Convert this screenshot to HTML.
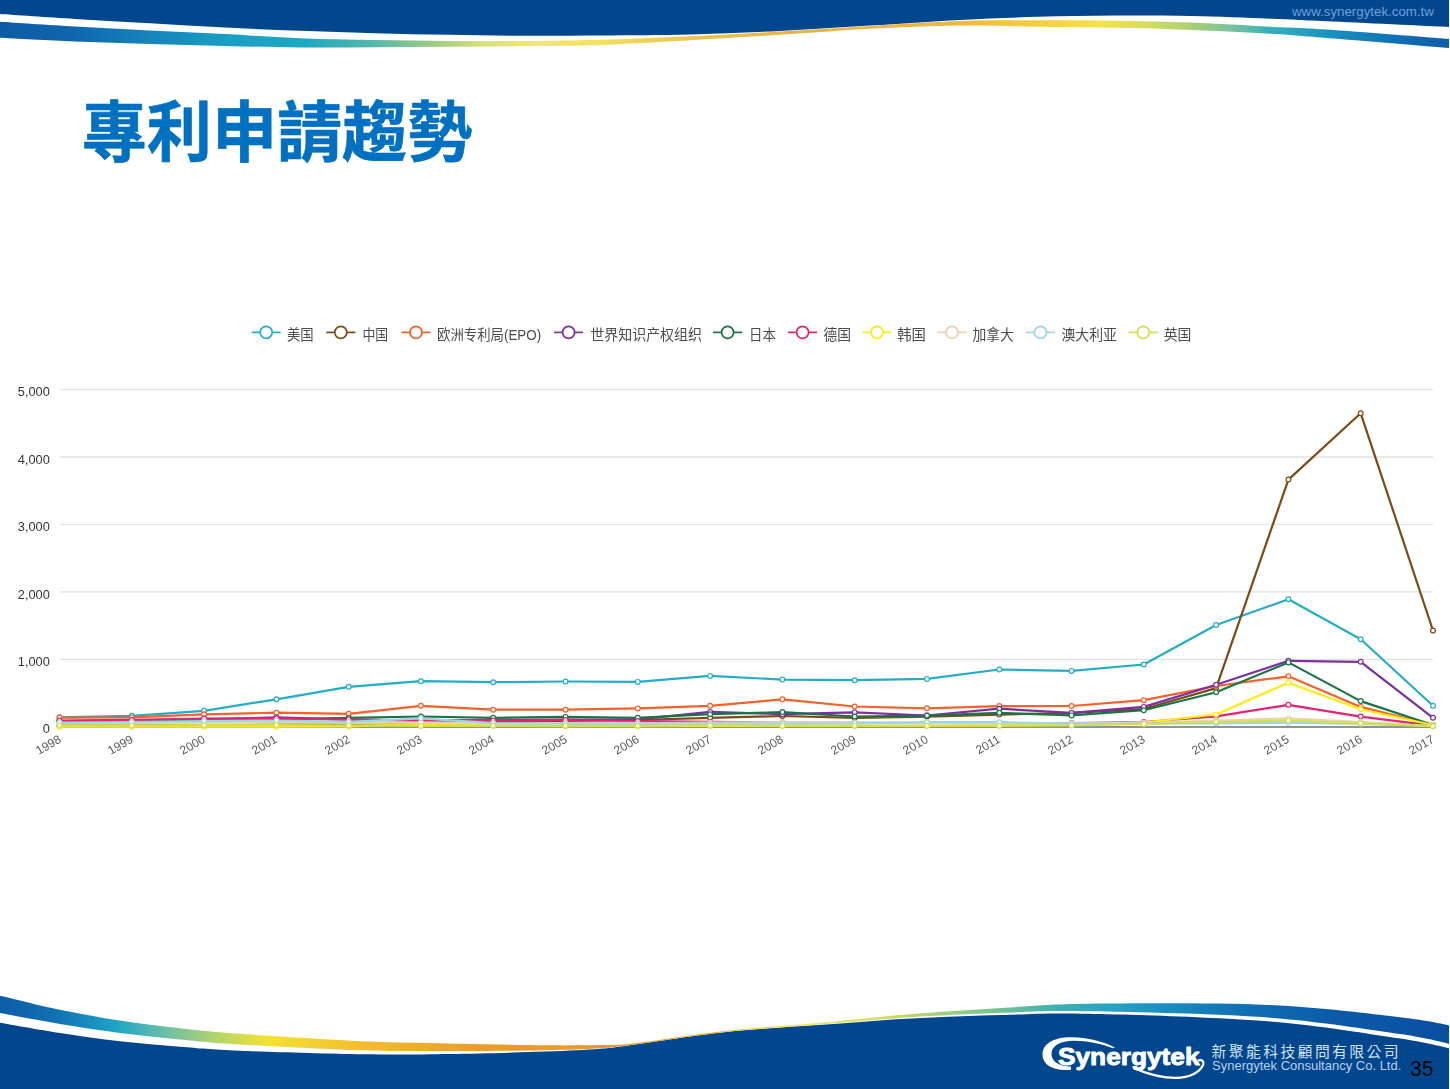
<!DOCTYPE html>
<html lang="zh-Hant">
<head>
<meta charset="utf-8">
<title>專利申請趨勢</title>
<style>
html,body{margin:0;padding:0;background:#fff;}
body{width:1450px;height:1089px;overflow:hidden;font-family:"Liberation Sans",sans-serif;}
#slide{position:relative;width:1450px;height:1089px;overflow:hidden;background:#fff;}
.abs{position:absolute;left:0;top:0;display:block;}
.url{left:1292px;top:3.6px;font-size:13.3px;line-height:15px;color:#6f9fdb;white-space:nowrap;}

.yl{position:absolute;left:0;width:49.8px;text-align:right;font-size:12.8px;line-height:14px;color:#363636;}
.xl{position:absolute;top:733px;width:40px;text-align:right;font-size:12px;line-height:13px;color:#5a5a5a;transform-origin:100% 0;transform:rotate(-30deg);white-space:nowrap;}

.co{left:1212px;top:1058.4px;font-size:13px;line-height:15px;color:#b9d1ee;white-space:nowrap;}
.pg{left:1409.7px;top:1056.5px;font-size:22.2px;line-height:24px;color:#000;white-space:nowrap;transform-origin:0 0;transform:scaleX(0.945);}
.lg{font-family:"Liberation Sans","Noto Sans CJK SC",sans-serif;font-size:13.6px;fill:#4c4c4c;}
/*CSS*/
</style>
</head>
<body>
<div id="slide">

<svg class="abs" width="1450" height="60" viewBox="0 0 1450 60">
 <defs>
  <linearGradient id="hg" x1="0" y1="0" x2="1450" y2="0" gradientUnits="userSpaceOnUse">
   <stop offset="0" stop-color="#0c5aa6"/>
   <stop offset="0.05" stop-color="#0f66ad"/>
   <stop offset="0.1" stop-color="#1583ba"/>
   <stop offset="0.16" stop-color="#1a9fc5"/>
   <stop offset="0.21" stop-color="#1aa9c2"/>
   <stop offset="0.26" stop-color="#5ab9a8"/>
   <stop offset="0.29" stop-color="#8dc68a"/>
   <stop offset="0.33" stop-color="#d6de7b"/>
   <stop offset="0.37" stop-color="#f2e773"/>
   <stop offset="0.415" stop-color="#f3e060"/>
   <stop offset="0.475" stop-color="#ecc450"/>
   <stop offset="0.54" stop-color="#e3b64a"/>
   <stop offset="0.6" stop-color="#e6b648"/>
   <stop offset="0.66" stop-color="#edb83e"/>
   <stop offset="0.715" stop-color="#f4cd3e"/>
   <stop offset="0.76" stop-color="#f3e34b"/>
   <stop offset="0.793" stop-color="#d3dc5f"/>
   <stop offset="0.822" stop-color="#a8cf78"/>
   <stop offset="0.848" stop-color="#7cc39b"/>
   <stop offset="0.876" stop-color="#35b0ba"/>
   <stop offset="0.915" stop-color="#1a93c0"/>
   <stop offset="0.96" stop-color="#1272b4"/>
   <stop offset="1" stop-color="#0d5ca8"/>
  </linearGradient>
 </defs>
 <path d="M0 0H1450V27C1429.5 26.1 1357.0 22.7 1327.0 21.3C1297.0 19.9 1292.5 19.6 1270.0 18.7C1247.5 17.8 1217.8 16.5 1192.0 16.0C1166.2 15.5 1140.8 15.4 1115.0 15.5C1089.2 15.6 1062.8 16.1 1037.0 16.8C1011.2 17.6 987.8 18.5 960.0 20.0C932.2 21.5 900.0 23.8 870.0 25.6C840.0 27.4 810.0 29.5 780.0 31.0C750.0 32.5 720.0 33.8 690.0 34.6C660.0 35.4 627.5 35.4 600.0 35.6C572.5 35.8 550.0 35.9 525.0 35.8C500.0 35.7 475.0 35.2 450.0 34.8C425.0 34.4 400.0 33.9 375.0 33.2C350.0 32.5 325.0 31.6 300.0 30.7C275.0 29.8 250.0 28.8 225.0 27.5C200.0 26.2 175.0 24.6 150.0 23.2C125.0 21.8 100.0 20.5 75.0 19.0C50.0 17.5 12.5 14.9 0.0 14.1Z" fill="#02468d"/>
 <path d="M0.0 21.7C12.5 22.5 50.0 25.0 75.0 26.5C100.0 28.0 125.0 29.3 150.0 30.6C175.0 31.9 200.0 32.8 225.0 34.1C250.0 35.4 275.0 37.2 300.0 38.2C325.0 39.2 350.0 39.5 375.0 40.0C400.0 40.5 425.0 40.8 450.0 41.0C475.0 41.2 500.0 41.2 525.0 41.0C550.0 40.8 572.5 40.6 600.0 39.8C627.5 39.0 660.0 37.7 690.0 36.3C720.0 34.9 750.0 33.2 780.0 31.5C810.0 29.8 840.0 27.8 870.0 26.0C900.0 24.2 932.2 21.9 960.0 21.0C987.8 20.1 1011.2 20.4 1037.0 20.3C1062.8 20.2 1089.2 20.3 1115.0 20.7C1140.8 21.1 1166.2 21.5 1192.0 22.5C1217.8 23.5 1247.5 25.5 1270.0 26.7C1292.5 27.9 1297.0 27.4 1327.0 29.5C1357.0 31.6 1429.5 37.4 1450.0 39.0L1450.0 48.0C1429.5 46.3 1357.0 40.3 1327.0 37.9C1297.0 35.5 1292.5 35.0 1270.0 33.7C1247.5 32.4 1217.8 30.9 1192.0 29.9C1166.2 28.9 1140.8 28.3 1115.0 27.8C1089.2 27.3 1062.8 27.1 1037.0 26.7C1011.2 26.3 987.8 25.1 960.0 25.5C932.2 25.9 900.0 27.2 870.0 28.8C840.0 30.4 810.0 32.9 780.0 34.8C750.0 36.7 720.0 38.5 690.0 40.2C660.0 41.9 627.5 44.0 600.0 45.0C572.5 46.0 550.0 45.9 525.0 46.2C500.0 46.5 475.0 46.6 450.0 46.8C425.0 47.0 400.0 47.1 375.0 47.2C350.0 47.3 325.0 47.6 300.0 47.4C275.0 47.2 250.0 46.5 225.0 45.9C200.0 45.3 175.0 44.6 150.0 43.9C125.0 43.1 100.0 42.4 75.0 41.4C50.0 40.4 12.5 38.3 0.0 37.7Z" fill="url(#hg)"/>
</svg>
<div class="abs url">www.synergytek.com.tw</div>

<svg class="abs" role="img" aria-label="專利申請趨勢" width="1450" height="200" viewBox="0 0 1450 200"><text transform="translate(81.7 155.6) scale(1.017 1.036)" x="0" y="0" font-family="'Liberation Sans','Noto Sans CJK TC',sans-serif" font-weight="bold" font-size="64" fill="#0070c0" stroke="#0070c0" stroke-width="0.6" stroke-linejoin="round" textLength="384" lengthAdjust="spacingAndGlyphs">專利申請趨勢</text></svg>
<div class="abs" id="chart" style="width:1450px;height:800px;filter:blur(0.6px)">
<svg class="abs" width="1450" height="800" viewBox="0 0 1450 800">
<g stroke="#e2e2e2" stroke-width="1.3">
<line x1="59.5" y1="659.3" x2="1433.0" y2="659.3"/>
<line x1="59.5" y1="591.8" x2="1433.0" y2="591.8"/>
<line x1="59.5" y1="524.4" x2="1433.0" y2="524.4"/>
<line x1="59.5" y1="457.0" x2="1433.0" y2="457.0"/>
<line x1="59.5" y1="389.6" x2="1433.0" y2="389.6"/>
</g>
<line x1="59.5" y1="727.0" x2="1433.0" y2="727.0" stroke="#6e6e6e" stroke-width="1.4"/>
<g stroke="#25acc7" fill="#fff">
<polyline points="59.5,717.3 131.8,715.8 204.1,710.8 276.4,699.3 348.7,686.8 420.9,681.2 493.2,682.2 565.5,681.5 637.8,681.9 710.1,675.9 782.4,679.6 854.7,680.2 927.0,678.9 999.3,669.5 1071.6,670.9 1143.8,664.5 1216.1,625.0 1288.4,599.3 1360.7,639.3 1433.0,705.7" fill="none" stroke-width="2.2" stroke-linejoin="round" stroke-linecap="round"/>
<circle cx="59.5" cy="717.3" r="2.4" stroke-width="1.2"/>
<circle cx="131.8" cy="715.8" r="2.4" stroke-width="1.2"/>
<circle cx="204.1" cy="710.8" r="2.4" stroke-width="1.2"/>
<circle cx="276.4" cy="699.3" r="2.4" stroke-width="1.2"/>
<circle cx="348.7" cy="686.8" r="2.4" stroke-width="1.2"/>
<circle cx="420.9" cy="681.2" r="2.4" stroke-width="1.2"/>
<circle cx="493.2" cy="682.2" r="2.4" stroke-width="1.2"/>
<circle cx="565.5" cy="681.5" r="2.4" stroke-width="1.2"/>
<circle cx="637.8" cy="681.9" r="2.4" stroke-width="1.2"/>
<circle cx="710.1" cy="675.9" r="2.4" stroke-width="1.2"/>
<circle cx="782.4" cy="679.6" r="2.4" stroke-width="1.2"/>
<circle cx="854.7" cy="680.2" r="2.4" stroke-width="1.2"/>
<circle cx="927.0" cy="678.9" r="2.4" stroke-width="1.2"/>
<circle cx="999.3" cy="669.5" r="2.4" stroke-width="1.2"/>
<circle cx="1071.6" cy="670.9" r="2.4" stroke-width="1.2"/>
<circle cx="1143.8" cy="664.5" r="2.4" stroke-width="1.2"/>
<circle cx="1216.1" cy="625.0" r="2.4" stroke-width="1.2"/>
<circle cx="1288.4" cy="599.3" r="2.4" stroke-width="1.2"/>
<circle cx="1360.7" cy="639.3" r="2.4" stroke-width="1.2"/>
<circle cx="1433.0" cy="705.7" r="2.4" stroke-width="1.2"/>
</g>
<g stroke="#7d4a17" fill="#fff">
<polyline points="59.5,725.7 131.8,725.5 204.1,725.2 276.4,724.7 348.7,724.0 420.9,723.0 493.2,722.0 565.5,721.0 637.8,720.0 710.1,717.8 782.4,716.0 854.7,717.8 927.0,716.6 999.3,714.6 1071.6,712.9 1143.8,709.0 1216.1,688.1 1288.4,479.6 1360.7,413.3 1433.0,630.5" fill="none" stroke-width="2.2" stroke-linejoin="round" stroke-linecap="round"/>
<circle cx="59.5" cy="725.7" r="2.4" stroke-width="1.2"/>
<circle cx="131.8" cy="725.5" r="2.4" stroke-width="1.2"/>
<circle cx="204.1" cy="725.2" r="2.4" stroke-width="1.2"/>
<circle cx="276.4" cy="724.7" r="2.4" stroke-width="1.2"/>
<circle cx="348.7" cy="724.0" r="2.4" stroke-width="1.2"/>
<circle cx="420.9" cy="723.0" r="2.4" stroke-width="1.2"/>
<circle cx="493.2" cy="722.0" r="2.4" stroke-width="1.2"/>
<circle cx="565.5" cy="721.0" r="2.4" stroke-width="1.2"/>
<circle cx="637.8" cy="720.0" r="2.4" stroke-width="1.2"/>
<circle cx="710.1" cy="717.8" r="2.4" stroke-width="1.2"/>
<circle cx="782.4" cy="716.0" r="2.4" stroke-width="1.2"/>
<circle cx="854.7" cy="717.8" r="2.4" stroke-width="1.2"/>
<circle cx="927.0" cy="716.6" r="2.4" stroke-width="1.2"/>
<circle cx="999.3" cy="714.6" r="2.4" stroke-width="1.2"/>
<circle cx="1071.6" cy="712.9" r="2.4" stroke-width="1.2"/>
<circle cx="1143.8" cy="709.0" r="2.4" stroke-width="1.2"/>
<circle cx="1216.1" cy="688.1" r="2.4" stroke-width="1.2"/>
<circle cx="1288.4" cy="479.6" r="2.4" stroke-width="1.2"/>
<circle cx="1360.7" cy="413.3" r="2.4" stroke-width="1.2"/>
<circle cx="1433.0" cy="630.5" r="2.4" stroke-width="1.2"/>
</g>
<g stroke="#f2622a" fill="#fff">
<polyline points="59.5,717.6 131.8,717.4 204.1,714.3 276.4,712.7 348.7,713.8 420.9,705.8 493.2,709.7 565.5,709.7 637.8,708.4 710.1,705.8 782.4,699.3 854.7,706.5 927.0,708.3 999.3,706.1 1071.6,706.0 1143.8,700.2 1216.1,686.0 1288.4,676.3 1360.7,706.9 1433.0,725.0" fill="none" stroke-width="2.2" stroke-linejoin="round" stroke-linecap="round"/>
<circle cx="59.5" cy="717.6" r="2.4" stroke-width="1.2"/>
<circle cx="131.8" cy="717.4" r="2.4" stroke-width="1.2"/>
<circle cx="204.1" cy="714.3" r="2.4" stroke-width="1.2"/>
<circle cx="276.4" cy="712.7" r="2.4" stroke-width="1.2"/>
<circle cx="348.7" cy="713.8" r="2.4" stroke-width="1.2"/>
<circle cx="420.9" cy="705.8" r="2.4" stroke-width="1.2"/>
<circle cx="493.2" cy="709.7" r="2.4" stroke-width="1.2"/>
<circle cx="565.5" cy="709.7" r="2.4" stroke-width="1.2"/>
<circle cx="637.8" cy="708.4" r="2.4" stroke-width="1.2"/>
<circle cx="710.1" cy="705.8" r="2.4" stroke-width="1.2"/>
<circle cx="782.4" cy="699.3" r="2.4" stroke-width="1.2"/>
<circle cx="854.7" cy="706.5" r="2.4" stroke-width="1.2"/>
<circle cx="927.0" cy="708.3" r="2.4" stroke-width="1.2"/>
<circle cx="999.3" cy="706.1" r="2.4" stroke-width="1.2"/>
<circle cx="1071.6" cy="706.0" r="2.4" stroke-width="1.2"/>
<circle cx="1143.8" cy="700.2" r="2.4" stroke-width="1.2"/>
<circle cx="1216.1" cy="686.0" r="2.4" stroke-width="1.2"/>
<circle cx="1288.4" cy="676.3" r="2.4" stroke-width="1.2"/>
<circle cx="1360.7" cy="706.9" r="2.4" stroke-width="1.2"/>
<circle cx="1433.0" cy="725.0" r="2.4" stroke-width="1.2"/>
</g>
<g stroke="#7d2fa0" fill="#fff">
<polyline points="59.5,721.0 131.8,720.3 204.1,719.3 276.4,717.4 348.7,719.6 420.9,720.3 493.2,720.0 565.5,719.6 637.8,719.3 710.1,711.9 782.4,714.2 854.7,712.4 927.0,715.5 999.3,708.7 1071.6,712.9 1143.8,706.9 1216.1,684.8 1288.4,660.8 1360.7,661.8 1433.0,717.8" fill="none" stroke-width="2.2" stroke-linejoin="round" stroke-linecap="round"/>
<circle cx="59.5" cy="721.0" r="2.4" stroke-width="1.2"/>
<circle cx="131.8" cy="720.3" r="2.4" stroke-width="1.2"/>
<circle cx="204.1" cy="719.3" r="2.4" stroke-width="1.2"/>
<circle cx="276.4" cy="717.4" r="2.4" stroke-width="1.2"/>
<circle cx="348.7" cy="719.6" r="2.4" stroke-width="1.2"/>
<circle cx="420.9" cy="720.3" r="2.4" stroke-width="1.2"/>
<circle cx="493.2" cy="720.0" r="2.4" stroke-width="1.2"/>
<circle cx="565.5" cy="719.6" r="2.4" stroke-width="1.2"/>
<circle cx="637.8" cy="719.3" r="2.4" stroke-width="1.2"/>
<circle cx="710.1" cy="711.9" r="2.4" stroke-width="1.2"/>
<circle cx="782.4" cy="714.2" r="2.4" stroke-width="1.2"/>
<circle cx="854.7" cy="712.4" r="2.4" stroke-width="1.2"/>
<circle cx="927.0" cy="715.5" r="2.4" stroke-width="1.2"/>
<circle cx="999.3" cy="708.7" r="2.4" stroke-width="1.2"/>
<circle cx="1071.6" cy="712.9" r="2.4" stroke-width="1.2"/>
<circle cx="1143.8" cy="706.9" r="2.4" stroke-width="1.2"/>
<circle cx="1216.1" cy="684.8" r="2.4" stroke-width="1.2"/>
<circle cx="1288.4" cy="660.8" r="2.4" stroke-width="1.2"/>
<circle cx="1360.7" cy="661.8" r="2.4" stroke-width="1.2"/>
<circle cx="1433.0" cy="717.8" r="2.4" stroke-width="1.2"/>
</g>
<g stroke="#1a7448" fill="#fff">
<polyline points="59.5,721.3 131.8,720.6 204.1,720.0 276.4,719.3 348.7,717.8 420.9,716.5 493.2,717.8 565.5,716.9 637.8,717.8 710.1,714.2 782.4,712.1 854.7,716.5 927.0,715.5 999.3,712.8 1071.6,715.4 1143.8,710.2 1216.1,692.3 1288.4,662.4 1360.7,701.1 1433.0,725.0" fill="none" stroke-width="2.2" stroke-linejoin="round" stroke-linecap="round"/>
<circle cx="59.5" cy="721.3" r="2.4" stroke-width="1.2"/>
<circle cx="131.8" cy="720.6" r="2.4" stroke-width="1.2"/>
<circle cx="204.1" cy="720.0" r="2.4" stroke-width="1.2"/>
<circle cx="276.4" cy="719.3" r="2.4" stroke-width="1.2"/>
<circle cx="348.7" cy="717.8" r="2.4" stroke-width="1.2"/>
<circle cx="420.9" cy="716.5" r="2.4" stroke-width="1.2"/>
<circle cx="493.2" cy="717.8" r="2.4" stroke-width="1.2"/>
<circle cx="565.5" cy="716.9" r="2.4" stroke-width="1.2"/>
<circle cx="637.8" cy="717.8" r="2.4" stroke-width="1.2"/>
<circle cx="710.1" cy="714.2" r="2.4" stroke-width="1.2"/>
<circle cx="782.4" cy="712.1" r="2.4" stroke-width="1.2"/>
<circle cx="854.7" cy="716.5" r="2.4" stroke-width="1.2"/>
<circle cx="927.0" cy="715.5" r="2.4" stroke-width="1.2"/>
<circle cx="999.3" cy="712.8" r="2.4" stroke-width="1.2"/>
<circle cx="1071.6" cy="715.4" r="2.4" stroke-width="1.2"/>
<circle cx="1143.8" cy="710.2" r="2.4" stroke-width="1.2"/>
<circle cx="1216.1" cy="692.3" r="2.4" stroke-width="1.2"/>
<circle cx="1288.4" cy="662.4" r="2.4" stroke-width="1.2"/>
<circle cx="1360.7" cy="701.1" r="2.4" stroke-width="1.2"/>
<circle cx="1433.0" cy="725.0" r="2.4" stroke-width="1.2"/>
</g>
<g stroke="#e5246f" fill="#fff">
<polyline points="59.5,720.5 131.8,719.9 204.1,718.6 276.4,718.3 348.7,719.6 420.9,720.5 493.2,720.6 565.5,720.1 637.8,721.0 710.1,721.9 782.4,722.5 854.7,722.8 927.0,723.0 999.3,723.0 1071.6,723.0 1143.8,722.0 1216.1,716.3 1288.4,704.8 1360.7,716.6 1433.0,725.7" fill="none" stroke-width="2.2" stroke-linejoin="round" stroke-linecap="round"/>
<circle cx="59.5" cy="720.5" r="2.4" stroke-width="1.2"/>
<circle cx="131.8" cy="719.9" r="2.4" stroke-width="1.2"/>
<circle cx="204.1" cy="718.6" r="2.4" stroke-width="1.2"/>
<circle cx="276.4" cy="718.3" r="2.4" stroke-width="1.2"/>
<circle cx="348.7" cy="719.6" r="2.4" stroke-width="1.2"/>
<circle cx="420.9" cy="720.5" r="2.4" stroke-width="1.2"/>
<circle cx="493.2" cy="720.6" r="2.4" stroke-width="1.2"/>
<circle cx="565.5" cy="720.1" r="2.4" stroke-width="1.2"/>
<circle cx="637.8" cy="721.0" r="2.4" stroke-width="1.2"/>
<circle cx="710.1" cy="721.9" r="2.4" stroke-width="1.2"/>
<circle cx="782.4" cy="722.5" r="2.4" stroke-width="1.2"/>
<circle cx="854.7" cy="722.8" r="2.4" stroke-width="1.2"/>
<circle cx="927.0" cy="723.0" r="2.4" stroke-width="1.2"/>
<circle cx="999.3" cy="723.0" r="2.4" stroke-width="1.2"/>
<circle cx="1071.6" cy="723.0" r="2.4" stroke-width="1.2"/>
<circle cx="1143.8" cy="722.0" r="2.4" stroke-width="1.2"/>
<circle cx="1216.1" cy="716.3" r="2.4" stroke-width="1.2"/>
<circle cx="1288.4" cy="704.8" r="2.4" stroke-width="1.2"/>
<circle cx="1360.7" cy="716.6" r="2.4" stroke-width="1.2"/>
<circle cx="1433.0" cy="725.7" r="2.4" stroke-width="1.2"/>
</g>
<g stroke="#ffeb12" fill="#fff">
<polyline points="59.5,726.7 131.8,726.7 204.1,726.7 276.4,726.7 348.7,726.4 420.9,724.0 493.2,725.7 565.5,726.2 637.8,726.2 710.1,726.0 782.4,726.0 854.7,726.0 927.0,726.0 999.3,725.7 1071.6,724.7 1143.8,722.7 1216.1,714.5 1288.4,682.7 1360.7,709.3 1433.0,725.0" fill="none" stroke-width="2.2" stroke-linejoin="round" stroke-linecap="round"/>
<circle cx="59.5" cy="726.7" r="2.4" stroke-width="1.2"/>
<circle cx="131.8" cy="726.7" r="2.4" stroke-width="1.2"/>
<circle cx="204.1" cy="726.7" r="2.4" stroke-width="1.2"/>
<circle cx="276.4" cy="726.7" r="2.4" stroke-width="1.2"/>
<circle cx="348.7" cy="726.4" r="2.4" stroke-width="1.2"/>
<circle cx="420.9" cy="724.0" r="2.4" stroke-width="1.2"/>
<circle cx="493.2" cy="725.7" r="2.4" stroke-width="1.2"/>
<circle cx="565.5" cy="726.2" r="2.4" stroke-width="1.2"/>
<circle cx="637.8" cy="726.2" r="2.4" stroke-width="1.2"/>
<circle cx="710.1" cy="726.0" r="2.4" stroke-width="1.2"/>
<circle cx="782.4" cy="726.0" r="2.4" stroke-width="1.2"/>
<circle cx="854.7" cy="726.0" r="2.4" stroke-width="1.2"/>
<circle cx="927.0" cy="726.0" r="2.4" stroke-width="1.2"/>
<circle cx="999.3" cy="725.7" r="2.4" stroke-width="1.2"/>
<circle cx="1071.6" cy="724.7" r="2.4" stroke-width="1.2"/>
<circle cx="1143.8" cy="722.7" r="2.4" stroke-width="1.2"/>
<circle cx="1216.1" cy="714.5" r="2.4" stroke-width="1.2"/>
<circle cx="1288.4" cy="682.7" r="2.4" stroke-width="1.2"/>
<circle cx="1360.7" cy="709.3" r="2.4" stroke-width="1.2"/>
<circle cx="1433.0" cy="725.0" r="2.4" stroke-width="1.2"/>
</g>
<g stroke="#e6d3b3" fill="#fff">
<polyline points="59.5,723.0 131.8,723.0 204.1,722.7 276.4,722.3 348.7,723.0 420.9,722.7 493.2,723.3 565.5,723.3 637.8,723.3 710.1,722.7 782.4,722.2 854.7,722.5 927.0,723.0 999.3,723.3 1071.6,723.3 1143.8,722.7 1216.1,720.6 1288.4,718.4 1360.7,722.0 1433.0,726.0" fill="none" stroke-width="2.2" stroke-linejoin="round" stroke-linecap="round"/>
<circle cx="59.5" cy="723.0" r="2.4" stroke-width="1.2"/>
<circle cx="131.8" cy="723.0" r="2.4" stroke-width="1.2"/>
<circle cx="204.1" cy="722.7" r="2.4" stroke-width="1.2"/>
<circle cx="276.4" cy="722.3" r="2.4" stroke-width="1.2"/>
<circle cx="348.7" cy="723.0" r="2.4" stroke-width="1.2"/>
<circle cx="420.9" cy="722.7" r="2.4" stroke-width="1.2"/>
<circle cx="493.2" cy="723.3" r="2.4" stroke-width="1.2"/>
<circle cx="565.5" cy="723.3" r="2.4" stroke-width="1.2"/>
<circle cx="637.8" cy="723.3" r="2.4" stroke-width="1.2"/>
<circle cx="710.1" cy="722.7" r="2.4" stroke-width="1.2"/>
<circle cx="782.4" cy="722.2" r="2.4" stroke-width="1.2"/>
<circle cx="854.7" cy="722.5" r="2.4" stroke-width="1.2"/>
<circle cx="927.0" cy="723.0" r="2.4" stroke-width="1.2"/>
<circle cx="999.3" cy="723.3" r="2.4" stroke-width="1.2"/>
<circle cx="1071.6" cy="723.3" r="2.4" stroke-width="1.2"/>
<circle cx="1143.8" cy="722.7" r="2.4" stroke-width="1.2"/>
<circle cx="1216.1" cy="720.6" r="2.4" stroke-width="1.2"/>
<circle cx="1288.4" cy="718.4" r="2.4" stroke-width="1.2"/>
<circle cx="1360.7" cy="722.0" r="2.4" stroke-width="1.2"/>
<circle cx="1433.0" cy="726.0" r="2.4" stroke-width="1.2"/>
</g>
<g stroke="#9ad7e6" fill="#fff">
<polyline points="59.5,722.6 131.8,722.0 204.1,721.1 276.4,720.5 348.7,721.9 420.9,718.3 493.2,723.2 565.5,723.7 637.8,723.7 710.1,723.7 782.4,723.7 854.7,723.3 927.0,722.2 999.3,722.2 1071.6,723.7 1143.8,723.7 1216.1,723.3 1288.4,722.7 1360.7,724.0 1433.0,726.0" fill="none" stroke-width="2.2" stroke-linejoin="round" stroke-linecap="round"/>
<circle cx="59.5" cy="722.6" r="2.4" stroke-width="1.2"/>
<circle cx="131.8" cy="722.0" r="2.4" stroke-width="1.2"/>
<circle cx="204.1" cy="721.1" r="2.4" stroke-width="1.2"/>
<circle cx="276.4" cy="720.5" r="2.4" stroke-width="1.2"/>
<circle cx="348.7" cy="721.9" r="2.4" stroke-width="1.2"/>
<circle cx="420.9" cy="718.3" r="2.4" stroke-width="1.2"/>
<circle cx="493.2" cy="723.2" r="2.4" stroke-width="1.2"/>
<circle cx="565.5" cy="723.7" r="2.4" stroke-width="1.2"/>
<circle cx="637.8" cy="723.7" r="2.4" stroke-width="1.2"/>
<circle cx="710.1" cy="723.7" r="2.4" stroke-width="1.2"/>
<circle cx="782.4" cy="723.7" r="2.4" stroke-width="1.2"/>
<circle cx="854.7" cy="723.3" r="2.4" stroke-width="1.2"/>
<circle cx="927.0" cy="722.2" r="2.4" stroke-width="1.2"/>
<circle cx="999.3" cy="722.2" r="2.4" stroke-width="1.2"/>
<circle cx="1071.6" cy="723.7" r="2.4" stroke-width="1.2"/>
<circle cx="1143.8" cy="723.7" r="2.4" stroke-width="1.2"/>
<circle cx="1216.1" cy="723.3" r="2.4" stroke-width="1.2"/>
<circle cx="1288.4" cy="722.7" r="2.4" stroke-width="1.2"/>
<circle cx="1360.7" cy="724.0" r="2.4" stroke-width="1.2"/>
<circle cx="1433.0" cy="726.0" r="2.4" stroke-width="1.2"/>
</g>
<g stroke="#d3de4a" fill="#fff">
<polyline points="59.5,725.4 131.8,725.4 204.1,725.2 276.4,725.0 348.7,725.4 420.9,725.9 493.2,725.8 565.5,725.8 637.8,725.8 710.1,725.5 782.4,725.7 854.7,725.7 927.0,725.7 999.3,725.7 1071.6,725.5 1143.8,724.0 1216.1,722.0 1288.4,720.5 1360.7,723.3 1433.0,726.2" fill="none" stroke-width="2.2" stroke-linejoin="round" stroke-linecap="round"/>
<circle cx="59.5" cy="725.4" r="2.4" stroke-width="1.2"/>
<circle cx="131.8" cy="725.4" r="2.4" stroke-width="1.2"/>
<circle cx="204.1" cy="725.2" r="2.4" stroke-width="1.2"/>
<circle cx="276.4" cy="725.0" r="2.4" stroke-width="1.2"/>
<circle cx="348.7" cy="725.4" r="2.4" stroke-width="1.2"/>
<circle cx="420.9" cy="725.9" r="2.4" stroke-width="1.2"/>
<circle cx="493.2" cy="725.8" r="2.4" stroke-width="1.2"/>
<circle cx="565.5" cy="725.8" r="2.4" stroke-width="1.2"/>
<circle cx="637.8" cy="725.8" r="2.4" stroke-width="1.2"/>
<circle cx="710.1" cy="725.5" r="2.4" stroke-width="1.2"/>
<circle cx="782.4" cy="725.7" r="2.4" stroke-width="1.2"/>
<circle cx="854.7" cy="725.7" r="2.4" stroke-width="1.2"/>
<circle cx="927.0" cy="725.7" r="2.4" stroke-width="1.2"/>
<circle cx="999.3" cy="725.7" r="2.4" stroke-width="1.2"/>
<circle cx="1071.6" cy="725.5" r="2.4" stroke-width="1.2"/>
<circle cx="1143.8" cy="724.0" r="2.4" stroke-width="1.2"/>
<circle cx="1216.1" cy="722.0" r="2.4" stroke-width="1.2"/>
<circle cx="1288.4" cy="720.5" r="2.4" stroke-width="1.2"/>
<circle cx="1360.7" cy="723.3" r="2.4" stroke-width="1.2"/>
<circle cx="1433.0" cy="726.2" r="2.4" stroke-width="1.2"/>
</g>
<g stroke="#25acc7" stroke-width="1.7" fill="#fff"><line x1="251.7" y1="332.4" x2="280.7" y2="332.4"/><circle cx="266.2" cy="332.4" r="6"/></g>
<text class="lg" transform="translate(287.0 340.3) scale(0.982 1.08)" x="0" y="0">美国</text>
<g stroke="#7d4a17" stroke-width="1.7" fill="#fff"><line x1="326.3" y1="332.4" x2="355.3" y2="332.4"/><circle cx="340.8" cy="332.4" r="6"/></g>
<text class="lg" transform="translate(362.5 340.3) scale(0.945 1.08)" x="0" y="0">中国</text>
<g stroke="#f2622a" stroke-width="1.7" fill="#fff"><line x1="401.5" y1="332.4" x2="430.5" y2="332.4"/><circle cx="416" cy="332.4" r="6"/></g>
<text class="lg" transform="translate(437.0 340.3) scale(1.011 1.08)" x="0" y="0" textLength="103" lengthAdjust="spacingAndGlyphs">欧洲专利局(EPO)</text>
<g stroke="#7d2fa0" stroke-width="1.7" fill="#fff"><line x1="554.1" y1="332.4" x2="583.1" y2="332.4"/><circle cx="568.6" cy="332.4" r="6"/></g>
<text class="lg" transform="translate(590.3 340.3) scale(1.027 1.08)" x="0" y="0">世界知识产权组织</text>
<g stroke="#1a7448" stroke-width="1.7" fill="#fff"><line x1="713.1" y1="332.4" x2="742.1" y2="332.4"/><circle cx="727.6" cy="332.4" r="6"/></g>
<text class="lg" transform="translate(749.0 340.3) scale(0.989 1.08)" x="0" y="0">日本</text>
<g stroke="#e5246f" stroke-width="1.7" fill="#fff"><line x1="788.1" y1="332.4" x2="817.1" y2="332.4"/><circle cx="802.6" cy="332.4" r="6"/></g>
<text class="lg" transform="translate(823.4 340.3) scale(1.015 1.08)" x="0" y="0">德国</text>
<g stroke="#ffeb12" stroke-width="1.7" fill="#fff"><line x1="862.5" y1="332.4" x2="891.5" y2="332.4"/><circle cx="877" cy="332.4" r="6"/></g>
<text class="lg" transform="translate(897.2 340.3) scale(1.055 1.08)" x="0" y="0">韩国</text>
<g stroke="#e6d3b3" stroke-width="1.7" fill="#fff"><line x1="937.5" y1="332.4" x2="966.5" y2="332.4"/><circle cx="952" cy="332.4" r="6"/></g>
<text class="lg" transform="translate(972.4 340.3) scale(1.015 1.08)" x="0" y="0">加拿大</text>
<g stroke="#9ad7e6" stroke-width="1.7" fill="#fff"><line x1="1026.0" y1="332.4" x2="1055.0" y2="332.4"/><circle cx="1040.5" cy="332.4" r="6"/></g>
<text class="lg" transform="translate(1061.4 340.3) scale(1.022 1.08)" x="0" y="0">澳大利亚</text>
<g stroke="#d3de4a" stroke-width="1.7" fill="#fff"><line x1="1128.8" y1="332.4" x2="1157.8" y2="332.4"/><circle cx="1143.3" cy="332.4" r="6"/></g>
<text class="lg" transform="translate(1163.8 340.3) scale(1.015 1.08)" x="0" y="0">英国</text>
</svg>
<div class="yl" style="top:722.4px">0</div>
<div class="yl" style="top:655.0px">1,000</div>
<div class="yl" style="top:587.5px">2,000</div>
<div class="yl" style="top:520.1px">3,000</div>
<div class="yl" style="top:452.7px">4,000</div>
<div class="yl" style="top:385.2px">5,000</div>
<div class="xl" style="left:16.5px">1998</div>
<div class="xl" style="left:88.8px">1999</div>
<div class="xl" style="left:161.1px">2000</div>
<div class="xl" style="left:233.4px">2001</div>
<div class="xl" style="left:305.7px">2002</div>
<div class="xl" style="left:377.9px">2003</div>
<div class="xl" style="left:450.2px">2004</div>
<div class="xl" style="left:522.5px">2005</div>
<div class="xl" style="left:594.8px">2006</div>
<div class="xl" style="left:667.1px">2007</div>
<div class="xl" style="left:739.4px">2008</div>
<div class="xl" style="left:811.7px">2009</div>
<div class="xl" style="left:884.0px">2010</div>
<div class="xl" style="left:956.3px">2011</div>
<div class="xl" style="left:1028.6px">2012</div>
<div class="xl" style="left:1100.8px">2013</div>
<div class="xl" style="left:1173.1px">2014</div>
<div class="xl" style="left:1245.4px">2015</div>
<div class="xl" style="left:1317.7px">2016</div>
<div class="xl" style="left:1390.0px">2017</div>
</div>

<svg class="abs" style="top:980px" width="1450" height="109" viewBox="0 980 1450 109">
 <defs>
  <linearGradient id="fg" x1="0" y1="0" x2="1450" y2="0" gradientUnits="userSpaceOnUse">
   <stop offset="0" stop-color="#0d5ca8"/>
   <stop offset="0.04" stop-color="#1172b3"/>
   <stop offset="0.08" stop-color="#1ea5c6"/>
   <stop offset="0.115" stop-color="#6cc0a5"/>
   <stop offset="0.15" stop-color="#b5d46b"/>
   <stop offset="0.185" stop-color="#f3e234"/>
   <stop offset="0.25" stop-color="#f2bd2d"/>
   <stop offset="0.33" stop-color="#ea9c2c"/>
   <stop offset="0.42" stop-color="#e9982d"/>
   <stop offset="0.50" stop-color="#f0c23a"/>
   <stop offset="0.55" stop-color="#f3e85a"/>
   <stop offset="0.61" stop-color="#cfdc5e"/>
   <stop offset="0.67" stop-color="#8cc88a"/>
   <stop offset="0.73" stop-color="#3fb0b0"/>
   <stop offset="0.78" stop-color="#1f9dc4"/>
   <stop offset="0.85" stop-color="#1172b5"/>
   <stop offset="0.92" stop-color="#0c5aa8"/>
   <stop offset="1" stop-color="#094f9f"/>
  </linearGradient>
 </defs>
 <path d="M0 1089V1022.7C10.0 1024.4 40.0 1029.9 60.0 1033.0C80.0 1036.1 100.0 1039.0 120.0 1041.3C140.0 1043.6 160.0 1045.2 180.0 1046.8C200.0 1048.4 209.5 1049.5 240.0 1050.8C270.5 1052.0 328.0 1053.8 363.0 1054.3C398.0 1054.8 419.7 1054.5 450.0 1054.0C480.3 1053.5 520.0 1052.5 545.0 1051.6C570.0 1050.7 585.0 1050.0 600.0 1048.8C615.0 1047.6 614.0 1047.3 635.0 1044.5C656.0 1041.7 694.2 1035.3 726.0 1032.0C757.8 1028.7 795.8 1026.8 826.0 1024.6C856.2 1022.4 877.8 1020.4 907.0 1018.8C936.2 1017.2 970.7 1015.8 1001.0 1015.0C1031.3 1014.2 1044.5 1012.8 1089.0 1013.8C1133.5 1014.8 1216.2 1017.2 1268.0 1021.3C1319.8 1025.4 1369.7 1034.0 1400.0 1038.6C1430.3 1043.1 1441.7 1046.9 1450.0 1048.6V1089Z" fill="#02468d"/>
 <path d="M0.0 995.8C10.0 998.1 40.0 1005.7 60.0 1009.8C80.0 1013.9 100.0 1017.5 120.0 1020.6C140.0 1023.7 160.0 1026.0 180.0 1028.2C200.0 1030.4 209.5 1031.6 240.0 1033.8C270.5 1036.0 328.0 1039.7 363.0 1041.3C398.0 1042.9 419.7 1042.8 450.0 1043.5C480.3 1044.2 520.0 1045.0 545.0 1045.3C570.0 1045.5 585.0 1045.3 600.0 1045.0C615.0 1044.7 614.0 1045.6 635.0 1043.2C656.0 1040.8 694.2 1034.3 726.0 1030.8C757.8 1027.3 795.8 1024.9 826.0 1022.2C856.2 1019.5 877.8 1016.9 907.0 1014.5C936.2 1012.1 970.7 1009.8 1001.0 1008.0C1031.3 1006.2 1044.5 1004.3 1089.0 1003.8C1133.5 1003.3 1216.2 1002.8 1268.0 1005.0C1319.8 1007.2 1369.7 1013.9 1400.0 1017.3C1430.3 1020.7 1441.7 1024.1 1450.0 1025.5L1450.0 1044.0C1441.7 1042.3 1430.3 1038.4 1400.0 1034.0C1369.7 1029.6 1319.8 1021.3 1268.0 1017.5C1216.2 1013.7 1133.5 1012.1 1089.0 1011.3C1044.5 1010.5 1031.3 1011.8 1001.0 1012.8C970.7 1013.8 936.2 1015.6 907.0 1017.5C877.8 1019.4 856.2 1021.6 826.0 1024.0C795.8 1026.4 757.8 1028.6 726.0 1032.0C694.2 1035.4 656.0 1041.8 635.0 1044.5C614.0 1047.2 615.0 1047.3 600.0 1048.3C585.0 1049.3 570.0 1049.8 545.0 1050.3C520.0 1050.8 480.3 1051.0 450.0 1051.0C419.7 1051.0 398.0 1051.4 363.0 1050.3C328.0 1049.2 270.5 1046.2 240.0 1044.4C209.5 1042.6 200.0 1041.3 180.0 1039.4C160.0 1037.5 140.0 1035.6 120.0 1033.0C100.0 1030.4 80.0 1027.2 60.0 1023.9C40.0 1020.6 10.0 1014.9 0.0 1013.1Z" fill="url(#fg)"/>
</svg>

<svg class="abs" style="top:1030px" width="1450" height="59" viewBox="0 1030 1450 59">
<text x="1211.6" y="1056.8" font-family="'Liberation Sans','Noto Sans CJK TC',sans-serif" font-size="14.8" fill="#d3e2f6" textLength="187" lengthAdjust="spacing">新聚能科技顧問有限公司</text>
<g fill="#fff">
<path d="M1071 1069.8C1052 1071.5 1042 1064 1042.5 1054C1043 1043 1055 1037 1072 1037.3C1090 1037.6 1104 1042 1115 1047.5L1113 1048.2C1102 1044.2 1088 1040.8 1074 1040.8C1060 1040.8 1051.5 1046 1051.5 1054C1051.5 1061 1058 1066.2 1071 1066.5Z"/>
<path d="M1134 1068.2C1149 1074.6 1163 1077.9 1176 1077.9C1190 1077.9 1200.2 1071.8 1203.2 1064.6C1204.3 1061.6 1202.2 1059.6 1198.8 1060.4" fill="none" stroke="#fff" stroke-width="2.3" stroke-linecap="round"/>
</g>
<text x="1058" y="1064.7" font-family="Liberation Sans, sans-serif" font-weight="bold" font-size="24" fill="#fff" stroke="#fff" stroke-width="0.9" stroke-linejoin="round" textLength="141.5" lengthAdjust="spacingAndGlyphs">Synergytek</text>
</svg>
<div class="abs co">Synergytek Consultancy Co. Ltd.</div>
<div class="abs pg">35</div>
<div class="abs" style="left:1449px;width:1px;height:1089px;background:#fff"></div>
</div>
</body>
</html>
